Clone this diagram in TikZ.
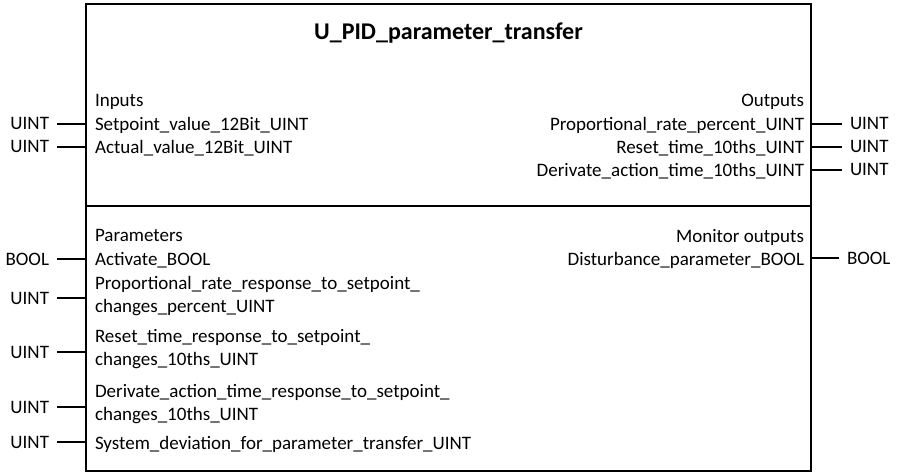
\documentclass[tikz,border=0pt]{standalone}
\usepackage{fontspec}
\setmainfont{Carlito}
\begin{document}
\begin{tikzpicture}[x=1pt,y=-1pt,
  every node/.style={font=\fontsize{19}{22}\selectfont, inner sep=0pt, outer sep=0pt},
  wire/.style={line width=2pt},
  frame/.style={line width=2.4pt},
  pl/.style={anchor=base west},
  pr/.style={anchor=base east},
  tyl/.style={anchor=east, outer xsep=8pt, text depth=0pt},
  tyr/.style={anchor=west, outer xsep=8pt, text depth=0pt},
]
\useasboundingbox (0,0) rectangle (898,472);
\node[draw, frame, anchor=north west, minimum width=725pt, minimum height=467pt] (fb) at (86,4) {};
\coordinate (dl) at (86,206);
\coordinate (dr) at (811,206);
\draw[frame] (dl) -- (dr);

\node[font=\bfseries\fontsize{24}{28}\selectfont, anchor=base] (title) at (448.5,39) {U\_PID\_parameter\_transfer};

% inputs
\node[pl] (inh) at (95,106) {Inputs};
\node[pl] (in1) at (95,130) {Setpoint\_value\_12Bit\_UINT};
\node[pl] (in2) at (95,153) {Actual\_value\_12Bit\_UINT};
\node[tyl] (tin1) at (57,123.5) {UINT};
\node[tyl] (tin2) at (57,146.5) {UINT};
\draw[wire] (tin1.east) -- (tin1.east -| fb.west);
\draw[wire] (tin2.east) -- (tin2.east -| fb.west);

% outputs
\node[pr] (outh) at (804,106) {Outputs};
\node[pr] (out1) at (804,130) {Proportional\_rate\_percent\_UINT};
\node[pr] (out2) at (804,153) {Reset\_time\_10ths\_UINT};
\node[pr] (out3) at (804,176) {Derivate\_action\_time\_10ths\_UINT};
\node[tyr] (tout1) at (842,123.5) {UINT};
\node[tyr] (tout2) at (842,146.5) {UINT};
\node[tyr] (tout3) at (842,169.5) {UINT};
\draw[wire] (tout1.west -| fb.east) -- (tout1.west);
\draw[wire] (tout2.west -| fb.east) -- (tout2.west);
\draw[wire] (tout3.west -| fb.east) -- (tout3.west);

% parameters
\node[pl] (parh) at (95,241) {Parameters};
\node[pl] (par1) at (95,265) {Activate\_BOOL};
\node[pl] (par2a) at (95,289) {Proportional\_rate\_response\_to\_setpoint\_};
\node[pl] (par2b) at (95,312) {changes\_percent\_UINT};
\node[pl] (par3a) at (95,342) {Reset\_time\_response\_to\_setpoint\_};
\node[pl] (par3b) at (95,365) {changes\_10ths\_UINT};
\node[pl] (par4a) at (95,397) {Derivate\_action\_time\_response\_to\_setpoint\_};
\node[pl] (par4b) at (95,420) {changes\_10ths\_UINT};
\node[pl] (par5) at (95,449) {System\_deviation\_for\_parameter\_transfer\_UINT};
\node[tyl] (tpar1) at (57,259) {BOOL};
\node[tyl] (tpar2) at (57,298) {UINT};
\node[tyl] (tpar3) at (57,352) {UINT};
\node[tyl] (tpar4) at (57,407) {UINT};
\node[tyl] (tpar5) at (57,442) {UINT};
\foreach \n in {tpar1,tpar2,tpar3,tpar4,tpar5}
  \draw[wire] (\n.east) -- (\n.east -| fb.west);

% monitor outputs
\node[pr] (monh) at (804,242) {Monitor outputs};
\node[pr] (mon1) at (804,265) {Disturbance\_parameter\_BOOL};
\node[tyr] (tmon1) at (839,258) {BOOL};
\draw[wire] (tmon1.west -| fb.east) -- (tmon1.west);
\end{tikzpicture}
\end{document}
